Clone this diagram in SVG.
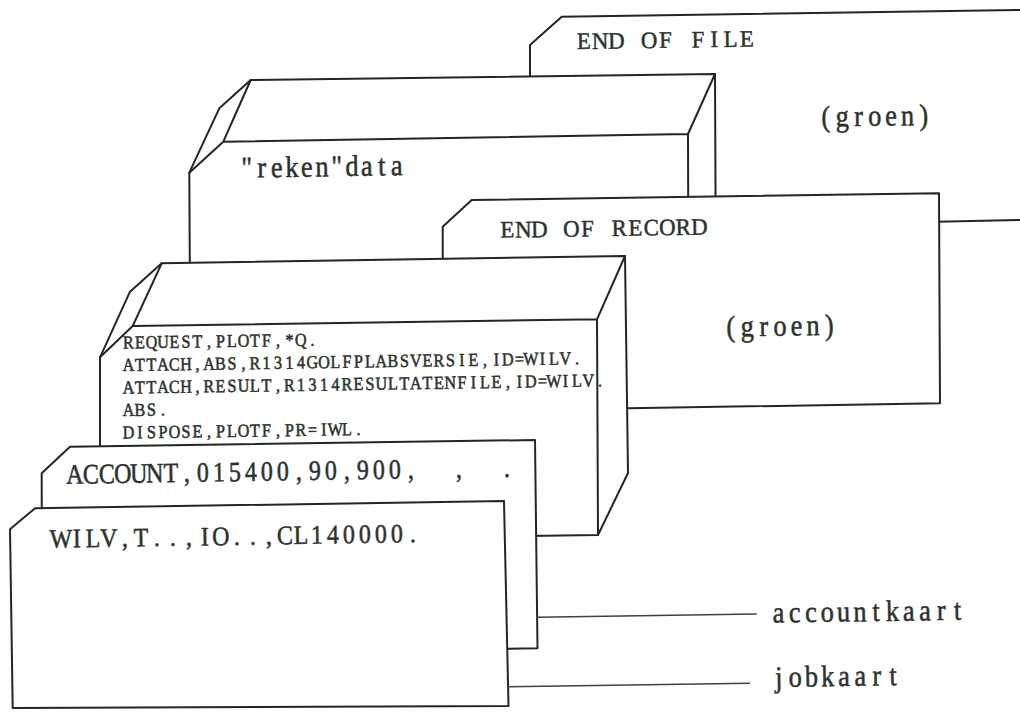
<svg xmlns="http://www.w3.org/2000/svg" width="1020" height="712" viewBox="0 0 1020 712">
  <defs>
    <style>
      .card{fill:#ffffff;stroke:#1f2821;stroke-width:2;stroke-linejoin:round}
      .edge{fill:none;stroke:#1f2821;stroke-width:2;stroke-linecap:round;stroke-linejoin:round}
      .lead{fill:none;stroke:#3a463d;stroke-width:1.4}
      .t{font-family:"Liberation Serif","Times New Roman",serif;fill:#2c332d;stroke:#2c332d;stroke-width:0.4;stroke-linejoin:round;text-anchor:middle;white-space:pre}
      .big{font-size:19px}
      .low{font-size:22px}
      .small{font-size:13.5px}
      .acc{font-size:20px}
    </style>
  </defs>
  <rect width="1020" height="712" fill="#ffffff"/>

  <!-- rearmost card: end-of-file -->
  <g id="end-of-file">
    <polygon class="card" points="561.7,16.7 1024,9.9 1024,219.9 937,221.7 530,229 530,45"/>
    <text class="t big" xml:space="preserve" transform="translate(584,49) rotate(-0.86) scale(1.2,1.24)" x="0 13.58 27.17 40.75 54.33 67.92 81.5 95.08 108.67 122.25 135.83" y="0">END OF FILE</text>
    <text class="t low" xml:space="preserve" transform="translate(826,126.5) rotate(-0.86) scale(1.2,1.36)" x="0 13.58 27.17 40.75 54.33 67.92 81.5" y="0">(groen)</text>
  </g>

  <!-- deck of data cards -->
  <g id="reken-data">
    <polygon class="card" points="250.7,80 715,74 716,300 190,300 189.3,172.7 219.3,108.3"/>
    <path class="edge" d="M250.7,80 L223.3,141.7 L189.3,172.7 M223.3,141.7 L688,134 L715,74 M688,134 L688.5,300"/>
    <text class="t low" xml:space="preserve" transform="translate(247,177.5) rotate(-0.86) scale(1.2,1.36)" x="0 12.5 25 37.5 50 62.5 75 87.5 100 112.5 125 137.5" y="0">"reken"data</text>
  </g>

  <!-- end-of-record card -->
  <g id="end-of-record">
    <polygon class="card" points="471.7,200 939,193.3 940,403.3 628,408.3 443,411 442.7,226.7"/>
    <text class="t big" xml:space="preserve" transform="translate(507.5,237.5) rotate(-0.86) scale(1.2,1.24)" x="0 13.33 26.67 40 53.33 66.67 80 93.33 106.67 120 133.33 146.67 160" y="0">END OF RECORD</text>
    <text class="t low" xml:space="preserve" transform="translate(731,336.5) rotate(-0.86) scale(1.2,1.36)" x="0 13.67 27.33 41 54.67 68.33 82" y="0">(groen)</text>
  </g>

  <!-- deck of control cards -->
  <g id="control-cards">
    <polygon class="card" points="161.7,263.3 625,256 628,473 598,535 100,542 100,357.3 130,291.7"/>
    <path class="edge" d="M161.7,263.3 L132.7,326 L100,357.3 M132.7,326 L597,319.3 L625,256 M597,319.3 L598,535"/>
    <text class="t small" xml:space="preserve" transform="translate(128.5,348.5) rotate(-0.86) scale(1.2,1.36)" x="0 9.58 19.17 28.75 38.33 47.92 57.5 67.08 76.67 86.25 95.83 105.42 115 124.58 134.17 143.75 153.33 162.92 172.5 182.08 191.67 201.25 210.83 220.42 230 239.58 249.17 258.75 268.33 277.92 287.5 297.08 306.67 316.25 325.83 335.42 345 354.58 364.17 373.75 383.33 392.92" y="0">REQUEST,PLOTF,*Q.</text>
    <text class="t small" xml:space="preserve" transform="translate(128.5,371) rotate(-0.86) scale(1.2,1.36)" x="0 9.58 19.17 28.75 38.33 47.92 57.5 67.08 76.67 86.25 95.83 105.42 115 124.58 134.17 143.75 153.33 162.92 172.5 182.08 191.67 201.25 210.83 220.42 230 239.58 249.17 258.75 268.33 277.92 287.5 297.08 306.67 316.25 325.83 335.42 345 354.58 364.17 373.75 383.33 392.92" y="0">ATTACH,ABS,R1314GOLFPLABSVERSIE,ID=WILV.</text>
    <text class="t small" xml:space="preserve" transform="translate(128.5,393.5) rotate(-0.86) scale(1.2,1.36)" x="0 9.58 19.17 28.75 38.33 47.92 57.5 67.08 76.67 86.25 95.83 105.42 115 124.58 134.17 143.75 153.33 162.92 172.5 182.08 191.67 201.25 210.83 220.42 230 239.58 249.17 258.75 268.33 277.92 287.5 297.08 306.67 316.25 325.83 335.42 345 354.58 364.17 373.75 383.33 392.92" y="0">ATTACH,RESULT,R1314RESULTATENFILE,ID=WILV.</text>
    <text class="t small" xml:space="preserve" transform="translate(128.5,416) rotate(-0.86) scale(1.2,1.36)" x="0 9.58 19.17 28.75 38.33 47.92 57.5 67.08 76.67 86.25 95.83 105.42 115 124.58 134.17 143.75 153.33 162.92 172.5 182.08 191.67 201.25 210.83 220.42 230 239.58 249.17 258.75 268.33 277.92 287.5 297.08 306.67 316.25 325.83 335.42 345 354.58 364.17 373.75 383.33 392.92" y="0">ABS.</text>
    <text class="t small" xml:space="preserve" transform="translate(128.5,438.5) rotate(-0.86) scale(1.2,1.36)" x="0 9.58 19.17 28.75 38.33 47.92 57.5 67.08 76.67 86.25 95.83 105.42 115 124.58 134.17 143.75 153.33 162.92 172.5 182.08 191.67 201.25 210.83 220.42 230 239.58 249.17 258.75 268.33 277.92 287.5 297.08 306.67 316.25 325.83 335.42 345 354.58 364.17 373.75 383.33 392.92" y="0">DISPOSE,PLOTF,PR=IWL.</text>
  </g>

  <!-- account card -->
  <g id="account-card">
    <polygon class="card" points="70,446.7 535,440 537.5,648.3 42,656 41.7,473.3"/>
    <text class="t acc" xml:space="preserve" transform="translate(75,483.5) rotate(-0.86) scale(1.2,1.4)" x="0 13.33 26.67 40 53.33 66.67 80 93.33 106.67 120 133.33 146.67 160 173.33 186.67 200 213.33 226.67 240 253.33 266.67 280 293.33 306.67 320 333.33 346.67 360" y="0">ACCOUNT,015400,90,900,  ,  .</text>
  </g>

  <!-- job card, front of the pack -->
  <g id="job-card">
    <polygon class="card" points="35,508.3 504,501 508.5,706 12.7,708 10,529.3"/>
    <text class="t acc" xml:space="preserve" transform="translate(61,547.5) rotate(-0.86) scale(1.2,1.33)" x="0 13.33 26.67 40 53.33 66.67 80 93.33 106.67 120 133.33 146.67 160 173.33 186.67 200 213.33 226.67 240 253.33 266.67 280 293.33" y="0">WILV,T..,IO..,CL140000.</text>
  </g>

  <!-- leader lines to the card names -->
  <g id="connectors">
    <line class="lead" x1="536.7" y1="617.3" x2="756.7" y2="614"/>
    <line class="lead" x1="508" y1="686.7" x2="750" y2="683.3"/>
  </g>
  <g id="labels">
    <text class="t low" xml:space="preserve" transform="translate(778.5,622.5) rotate(-0.86) scale(1.2,1.36)" x="0 13.58 27.17 40.75 54.33 67.92 81.5 95.08 108.67 122.25 135.83 149.42" y="0">accountkaart</text>
    <text class="t low" xml:space="preserve" transform="translate(779,687) rotate(-0.86) scale(1.2,1.36)" x="0 13.58 27.17 40.75 54.33 67.92 81.5 95.08" y="0">jobkaart</text>
  </g>
</svg>
